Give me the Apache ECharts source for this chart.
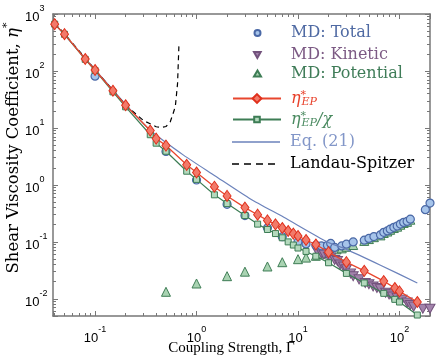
<!DOCTYPE html>
<html>
<head>
<meta charset="utf-8">
<script src="https://cdn.jsdelivr.net/npm/echarts@6/dist/echarts.min.js"></script>
<style>
html, body { margin: 0; padding: 0; background: #fff; }
#main { width: 436px; height: 358px; }
</style>
</head>
<body>
<div id="main"></div>
<script>
// coupling strength grid for the effective potential curves
var gammaEP = [0.04, 0.05, 0.08, 0.1, 0.15, 0.2, 0.35, 0.4, 0.5, 0.8, 1, 1.5, 2, 3, 4, 5, 6, 7, 8, 9, 10, 12, 15, 20, 30, 45, 70, 90, 100, 150];
var etaEP = [664, 442, 162, 104, 45, 25, 9.0, 6.5, 4.9, 2.25, 1.65, 0.93, 0.64, 0.40, 0.30, 0.238, 0.203, 0.175, 0.155, 0.14, 0.127, 0.108, 0.090, 0.066, 0.044, 0.031, 0.0205, 0.0155, 0.0135, 0.0088];
var etaEPchi = [664, 440, 160, 102, 43, 23.5, 7.6, 5.4, 3.9, 1.74, 1.25, 0.67, 0.47, 0.29, 0.205, 0.165, 0.140, 0.118, 0.100, 0.088, 0.078, 0.068, 0.056, 0.043, 0.028, 0.019, 0.0125, 0.0098, 0.0088, 0.0052];

// MD results
var gammaTotal = [0.1, 0.5, 1, 2, 3, 5, 7, 10, 12, 15, 17, 19.5, 21, 23, 27, 30, 35, 45, 50, 56, 65, 70, 76, 81, 88, 95, 102, 110, 119, 128, 180, 200];
var etaTotal = [81, 3.87, 1.22, 0.457, 0.29, 0.175, 0.123, 0.100, 0.092, 0.087, 0.085, 0.087, 0.094, 0.080, 0.085, 0.091, 0.10, 0.107, 0.115, 0.124, 0.133, 0.147, 0.156, 0.167, 0.18, 0.19, 0.205, 0.22, 0.229, 0.25, 0.367, 0.48];

var gammaKin = [15.5, 17, 18, 20, 21, 23, 24.5, 26, 28, 30, 33, 35, 40, 46, 50, 55, 60, 65, 73, 79, 85, 95, 106, 119, 128, 138, 170, 200];
var etaKin = [0.068, 0.063, 0.060, 0.055, 0.053, 0.048, 0.046, 0.040, 0.037, 0.033, 0.028, 0.025, 0.022, 0.019, 0.018, 0.0165, 0.0155, 0.0148, 0.0128, 0.012, 0.011, 0.0104, 0.0097, 0.0086, 0.0078, 0.0073, 0.0067, 0.0067];

var gammaPot = [0.5, 1, 2, 3, 5, 7, 10, 12, 15, 17, 19, 21, 24, 27, 30, 35, 45, 50, 56, 65, 70, 76, 81, 88, 95, 102, 110, 119, 128];
var etaPot = [0.0133, 0.0186, 0.025, 0.030, 0.037, 0.044, 0.0497, 0.053, 0.057, 0.062, 0.065, 0.07, 0.074, 0.077, 0.082, 0.088, 0.104, 0.112, 0.121, 0.130, 0.143, 0.152, 0.163, 0.175, 0.185, 0.2, 0.215, 0.225, 0.245];

// Eq. (21)
var gammaEq21 = [0.04, 0.1, 0.2, 0.35, 0.75, 1.5, 3.4, 7.25, 19.4, 30, 65, 150];
var etaEq21 = [680, 106, 26, 9.1, 3.3, 1.47, 0.567, 0.27, 0.1, 0.074, 0.039, 0.019];

// Landau-Spitzer
var gammaLS = [0.04, 0.05, 0.1, 0.2, 0.3, 0.4, 0.45, 0.5, 0.55, 0.6, 0.62, 0.65, 0.66, 0.67];
var etaLS = [690, 450, 105, 25, 13.5, 10.5, 10.2, 10.6, 12.7, 20, 25, 60, 127, 270];

var axisColor = '#777';

function pairs(xs, ys) {
	return xs.map(function (x, i) { return [x, ys[i]]; });
}

function powLabel(v) {
	var e = Math.round(Math.log10(v));
	if (Math.abs(v / Math.pow(10, e) - 1) > 1e-6) return '';
	return '{b|10}{e|' + e + '}';
}

var tickRich = {
	b: { fontFamily: 'Liberation Sans', fontSize: 13, color: '#000', lineHeight: 20, verticalAlign: 'bottom' },
	e: { fontFamily: 'Liberation Sans', fontSize: 9, color: '#000', lineHeight: 10, verticalAlign: 'top' }
};

function frameAxis(pos, showLabel) {
	return {
		type: 'log',
		logBase: 10,
		position: pos,
		nameMoveOverlap: false,
		axisLine: { show: true, lineStyle: { color: axisColor, width: 1.5 } },
		axisTick: { show: true, inside: true, length: 5, lineStyle: { color: axisColor } },
		minorTick: { show: true, splitNumber: 9, length: 3, lineStyle: { color: axisColor } },
		splitLine: { show: false },
		minorSplitLine: { show: false },
		axisLabel: { show: showLabel, formatter: powLabel, rich: tickRich, margin: 9 }
	};
}

var xMain = frameAxis('bottom', true);
xMain.name = 'Coupling Strength, Γ';
xMain.nameLocation = 'middle';
xMain.nameGap = 25;
xMain.nameTextStyle = { fontFamily: 'Liberation Serif', fontSize: 15, color: '#000', padding: [0, 20, 0, 0] };
var xTop = frameAxis('top', false);
[xMain, xTop].forEach(function (a) { a.min = 0.0385; a.max = 200; });

var yMain = frameAxis('left', true);
yMain.axisLabel.align = 'left';
yMain.axisLabel.margin = 28;
yMain.name = '{t|Shear Viscosity Coefficient, }{i|η}{s|*}';
yMain.nameLocation = 'middle';
yMain.nameGap = 31;
yMain.nameTextStyle = {
	padding: [0, 0, 0, 34],
	rich: {
		t: { fontFamily: 'DejaVu Serif', fontSize: 16.5, color: '#000', lineHeight: 20, verticalAlign: 'bottom' },
		i: { fontFamily: 'DejaVu Serif', fontStyle: 'italic', fontSize: 16.5, color: '#000', lineHeight: 20, verticalAlign: 'bottom' },
		s: { fontFamily: 'DejaVu Serif', fontSize: 11, color: '#000', lineHeight: 10, verticalAlign: 'top' }
	}
};
var yRight = frameAxis('right', false);
[yMain, yRight].forEach(function (a) { a.min = 0.005; a.max = 1000; });

// legends, one per row
function etaRich(color) {
	return {
		g: { fontFamily: 'DejaVu Serif', fontStyle: 'italic', fontSize: 16, color: color, lineHeight: 18 },
		s: { fontFamily: 'DejaVu Serif', fontSize: 11, color: color, lineHeight: 8, verticalAlign: 'top', width: 1 },
		u: { fontFamily: 'DejaVu Serif', fontStyle: 'italic', fontSize: 11, color: color, lineHeight: 8, verticalAlign: 'bottom' }
	};
}

// y: row centre, left/w/h: icon box; every label starts at x = 290
function row(name, y, left, w, h, color, icon, fmt, rich) {
	var ts = {
		fontFamily: 'DejaVu Serif', fontSize: 16, lineHeight: 18, color: color,
		padding: [0, 0, 0, 290 - (left + w + 5)]
	};
	if (rich) ts.rich = rich;
	var item = { name: name, textStyle: { color: color } };
	if (icon) item.icon = icon;
	var l = {
		data: [item],
		left: left,
		top: y - 9,
		orient: 'vertical',
		padding: 0,
		itemGap: 0,
		itemWidth: w,
		itemHeight: h,
		selectedMode: false,
		textStyle: ts
	};
	if (fmt) l.formatter = fmt;
	return l;
}

var downTri = 'path://M0,0 L10,0 L5,9 Z';
var solidIcon = 'path://M0,0 L48,0 L48,1.3 L0,1.3 Z';
var dashIcon = 'path://M0,0h7v1.3h-7z M12,0h7v1.3h-7z M24,0h7v1.3h-7z M36,0h7v1.3h-7z';

var option = {
	animation: false,
	grid: { left: 53, right: 6, top: 14, bottom: 42, containLabel: false, outerBoundsMode: 'none' },
	xAxis: [xMain, xTop],
	yAxis: [yMain, yRight],
	legend: [
		row('MD: Total', 33, 253.5, 6, 6, '#4f6aa3', 'circle'),
		row('MD: Kinetic', 55, 253, 7, 6, '#7c5a84', downTri),
		row('MD: Potential', 73.5, 253, 7, 6, '#3f7c58', 'triangle'),
		row('etaEP', 98.5, 232, 48, 11, '#e8402a', null, function () { return '{g|η}{s|*}{u|EP}'; }, etaRich('#e8402a')),
		row('etaEPchi', 119.5, 232, 48, 7, '#4a8a60', null, function () { return '{g|η}{s|*}{u|EP}{g|/χ}'; }, etaRich('#4a8a60')),
		row('Eq. (21)', 142, 232, 48, 10, '#8296c8', solidIcon),
		row('Landau-Spitzer', 164, 232, 43, 10, '#000', dashIcon)
	],
	series: [
		{
			name: 'Eq. (21)', type: 'line', data: pairs(gammaEq21, etaEq21),
			showSymbol: false, symbol: 'none', smooth: 0.2,
			lineStyle: { color: '#6b82bb', width: 1.2 }, itemStyle: { color: '#6b82bb' }
		},
		{
			name: 'Landau-Spitzer', type: 'line', data: pairs(gammaLS, etaLS),
			showSymbol: false, symbol: 'none',
			lineStyle: { color: '#000', width: 1.2, type: [5, 4] }, itemStyle: { color: '#000' }
		},
		{
			name: 'etaEPchi', type: 'line', data: pairs(gammaEP, etaEPchi),
			symbol: 'rect', symbolSize: 6,
			lineStyle: { color: '#3d7d55', width: 1.2 },
			itemStyle: { color: '#b4d9bd', borderColor: '#3d7d55', borderWidth: 1 }
		},
		{
			name: 'etaEP', type: 'line', data: pairs(gammaEP, etaEP),
			symbol: 'diamond', symbolSize: [8, 11],
			lineStyle: { color: '#e8462e', width: 1.3 },
			itemStyle: { color: '#f27a6a', borderColor: '#e0301c', borderWidth: 1 }
		},
		{
			name: 'MD: Potential', type: 'scatter', data: pairs(gammaPot, etaPot), clip: false,
			symbol: 'triangle', symbolSize: 9,
			itemStyle: { color: '#a9d3b2', borderColor: '#3e7d55', borderWidth: 1, opacity: 1 }
		},
		{
			name: 'MD: Kinetic', type: 'scatter', data: pairs(gammaKin, etaKin), clip: false,
			symbol: downTri, symbolSize: [10, 9],
			itemStyle: { color: '#a283ab', borderColor: '#73527c', borderWidth: 1, opacity: 1 }
		},
		{
			name: 'MD: Total', type: 'scatter', data: pairs(gammaTotal, etaTotal), clip: false,
			symbol: 'circle', symbolSize: 8,
			itemStyle: { color: '#a6c4ea', borderColor: '#4a68a6', borderWidth: 1.2, opacity: 1 }
		}
	]
};

var chart = echarts.init(document.getElementById('main'));
chart.setOption(option);
</script>
</body>
</html>
